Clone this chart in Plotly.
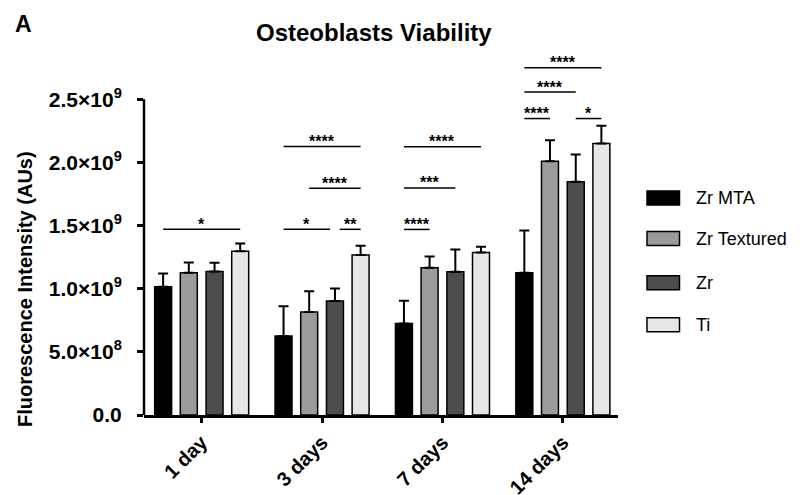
import plotly.graph_objects as go

# ---------------- data ----------------
categories = ["1 day", "3 days", "7 days", "14 days"]
series_names = ["Zr MTA", "Zr Textured", "Zr", "Ti"]

zr_mta      = [1.015e9, 0.625e9, 0.725e9, 1.126e9]
zr_textured = [1.126e9, 0.815e9, 1.165e9, 2.009e9]
zr          = [1.137e9, 0.902e9, 1.134e9, 1.846e9]
ti          = [1.297e9, 1.266e9, 1.287e9, 2.149e9]

zr_mta_err      = [0.105e9, 0.235e9, 0.179e9, 0.335e9]
zr_textured_err = [0.082e9, 0.164e9, 0.090e9, 0.167e9]
zr_err          = [0.068e9, 0.100e9, 0.177e9, 0.216e9]
ti_err          = [0.061e9, 0.073e9, 0.045e9, 0.140e9]

y_tickvals = [0, 0.5e9, 1.0e9, 1.5e9, 2.0e9, 2.5e9]
y_ticktext = ["0.0", "5.0×10<sup>8</sup>", "1.0×10<sup>9</sup>", "1.5×10<sup>9</sup>",
              "2.0×10<sup>9</sup>", "2.5×10<sup>9</sup>"]

# significance brackets: group index, from series, to series, height, label
sig_group = [0, 1, 1, 1, 1, 2, 2, 2, 3, 3, 3, 3]
sig_from  = [0, 0, 1, 0, 2, 0, 0, 0, 0, 0, 0, 2]
sig_to    = [3, 3, 3, 2, 3, 3, 2, 1, 3, 2, 1, 3]
sig_y     = [1.47e9, 2.125e9, 1.796e9, 1.47e9, 1.47e9, 2.123e9, 1.798e9, 1.469e9,
             2.75e9, 2.557e9, 2.347e9, 2.347e9]
sig_label = ["*", "****", "****", "*", "**", "****", "***", "****",
             "****", "****", "****", "*"]

# ---------------- styling ----------------
colors = ["#000000", "#9b9b9b", "#4d4d4d", "#e6e6e6"]
values = [zr_mta, zr_textured, zr, ti]
errors = [zr_mta_err, zr_textured_err, zr_err, ti_err]
bar_w = 0.141
centers = [-0.32, -0.107, 0.107, 0.32]
FONT = "Arial, Liberation Sans, Helvetica, sans-serif"

fig = go.Figure()
xs = list(range(len(categories)))
for k in range(4):
    fig.add_trace(go.Bar(
        x=xs, y=values[k], name=series_names[k],
        width=bar_w, offset=centers[k] - bar_w / 2,
        marker=dict(color=colors[k], line=dict(color="black", width=1.5)),
        error_y=dict(type="data", symmetric=False, array=errors[k],
                     arrayminus=[0] * len(categories),
                     color="black", thickness=2, width=5),
        showlegend=False,
    ))

# significance lines
trim = 0.04
for i in range(len(sig_y)):
    g = sig_group[i]
    x0 = g + centers[sig_from[i]]
    x1 = g + centers[sig_to[i]]
    for j in range(len(sig_y)):
        if j == i or sig_group[j] != g or sig_y[j] != sig_y[i]:
            continue
        if sig_to[j] == sig_from[i]:
            x0 += trim
        if sig_from[j] == sig_to[i]:
            x1 -= trim
    fig.add_shape(type="line", xref="x", yref="y", x0=x0, x1=x1,
                  y0=sig_y[i], y1=sig_y[i], line=dict(color="black", width=1.5))
    fig.add_annotation(x=(x0 + x1) / 2, y=sig_y[i], xref="x", yref="y",
                       text=sig_label[i], showarrow=False, yanchor="middle",
                       yshift=5, font=dict(family=FONT, size=16, color="black",
                                           weight="bold"))

# y-axis line (only up to 2.5e9)
fig.add_shape(type="line", xref="paper", yref="y", x0=0, x1=0, y0=0, y1=2.5e9,
              line=dict(color="black", width=2.5))

# ---------------- layout geometry ----------------
# the page body adds an 8px margin, so the figure is shrunk/shifted by 8px
OFF = 8
REF_W, REF_H = 803, 495
W, H = REF_W - OFF, REF_H - OFF
# plot area in reference pixels: x 144..618, y 55..415
PL, PR, PT, PB = 144, 618, 55, 415
ML, MR, MT, MB = PL - OFF, W - (PR - OFF), PT - OFF, H - (PB - OFF)
PW, PH = PR - PL, PB - PT


def px_x(px):
    return (px - PL) / PW


def px_y(py):
    return (PB - py) / PH


# manual legend with wide rectangles
legend_rows = [198, 238.5, 282.7, 324.7]
for k in range(4):
    fig.add_shape(type="rect", xref="paper", yref="paper",
                  x0=px_x(647), x1=px_x(679.5),
                  y0=px_y(legend_rows[k] + 7), y1=px_y(legend_rows[k] - 7),
                  fillcolor=colors[k], line=dict(color="black", width=1.5))
    fig.add_annotation(x=px_x(694), y=px_y(legend_rows[k]), xref="paper", yref="paper",
                       text=series_names[k], showarrow=False, xanchor="left",
                       yanchor="middle", font=dict(family=FONT, size=18, color="black"))

# panel letter
fig.add_annotation(x=px_x(23), y=px_y(23.5), xref="paper", yref="paper", text="A",
                   showarrow=False, xanchor="center", yanchor="middle",
                   font=dict(family=FONT, size=23, color="black", weight="bold"))

# y-axis title
fig.add_annotation(x=px_x(25), y=px_y(289), xref="paper", yref="paper",
                   text="Fluorescence Intensity (AUs)", textangle=-90, showarrow=False,
                   xanchor="center", yanchor="middle",
                   font=dict(family=FONT, size=20, color="black", weight="bold"))

# title
fig.add_annotation(x=px_x(373.5), y=px_y(32), xref="paper", yref="paper",
                   text="Osteoblasts Viability", showarrow=False,
                   xanchor="center", yanchor="middle",
                   font=dict(family=FONT, size=24, color="black", weight="bold"))

fig.update_layout(
    width=W, height=H,
    margin=dict(l=ML, r=MR, t=MT, b=MB, autoexpand=False),
    paper_bgcolor="white", plot_bgcolor="white",
    barmode="overlay",
    showlegend=False,
    xaxis=dict(range=[-0.479, 3.458], tickmode="array", tickvals=xs, ticktext=categories,
               tickangle=-45, showline=True, linecolor="black", linewidth=2.5,
               ticks="outside", ticklen=5, tickwidth=2.5, tickcolor="black",
               showgrid=False, zeroline=False,
               tickfont=dict(family=FONT, size=20, color="black", weight="bold")),
    yaxis=dict(range=[0, 2.85e9], tickmode="array", tickvals=y_tickvals,
               ticktext=y_ticktext, showline=False, showgrid=False, zeroline=False,
               ticks="outside", ticklen=6, tickwidth=2.5, tickcolor="black",
               ticklabelstandoff=11,
               tickfont=dict(family=FONT, size=21, color="black", weight="bold")),
)

fig.write_html("out.html")
